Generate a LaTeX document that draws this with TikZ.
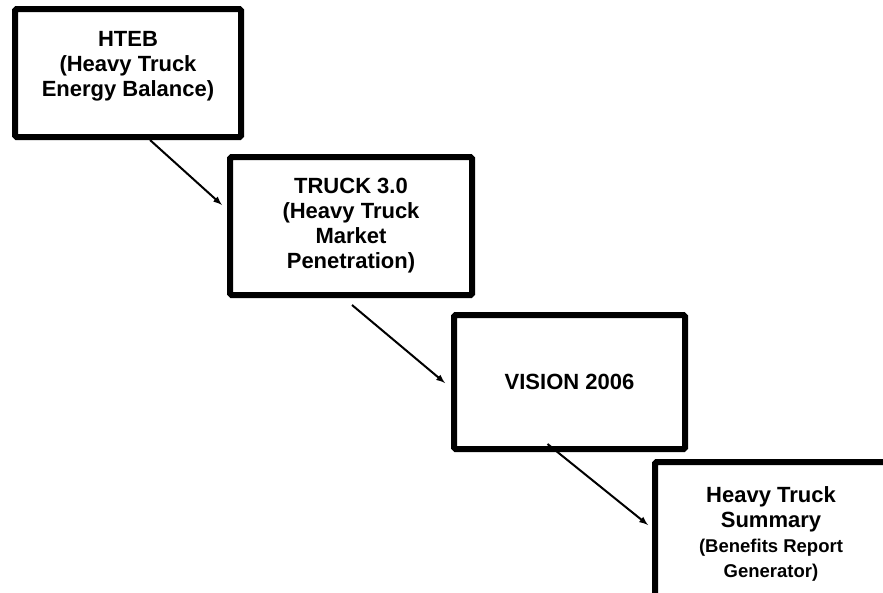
\documentclass[tikz,border=0pt]{standalone}
\usepackage{fontspec}
\setmainfont{Liberation Sans}
\usepackage{tikz}
\usetikzlibrary{calc}
\tikzset{>=latex}
\tikzset{
  box/.style={draw=black, line width=6pt, rounded corners=1.5pt, align=center,
    inner sep=0pt, font=\bfseries\fontsize{22}{25}\selectfont},
  link/.style={->, line width=2pt}
}
\newcommand{\smalltxt}{\fontsize{18.5}{23}\selectfont}

\begin{document}
\begin{tikzpicture}[x=1pt, y=-1pt]
  \useasboundingbox (0,0) rectangle (883,592); % 原图大小
  \clip (0,0) rectangle (883,592);
  \fill[white] (0,0) rectangle (883,592);
  % 四个方框,依次向右下排列
  \node[box, minimum width=226pt, minimum height=128pt, text depth=19pt] (hteb) at (128,73)
       {HTEB\\(Heavy Truck\\Energy Balance)};
  \node[box, minimum width=242pt, minimum height=138pt] (truck) at (351,226)
       {TRUCK 3.0\\(Heavy Truck\\Market\\Penetration)};
  \node[box, minimum width=231pt, minimum height=134pt] (vision) at (569.5,382)
       {VISION 2006};
  \node[box, minimum width=232pt, minimum height=144pt] (summary) at (771,534)
       {Heavy Truck\\Summary\\\smalltxt (Benefits Report\\\smalltxt Generator)};
  % 箭头
  \draw[link] ($(hteb.south)+(22,0)$) -- ($(truck.west)+(-5,-21)$);
  \draw[link] ($(truck.south)+(1,7)$) -- ($(vision.west)+(-6,1)$);
  \draw[link] ($(vision.south)+(-22,-8)$) -- ($(summary.west)+(-4,-9)$);
\end{tikzpicture}
\end{document}
